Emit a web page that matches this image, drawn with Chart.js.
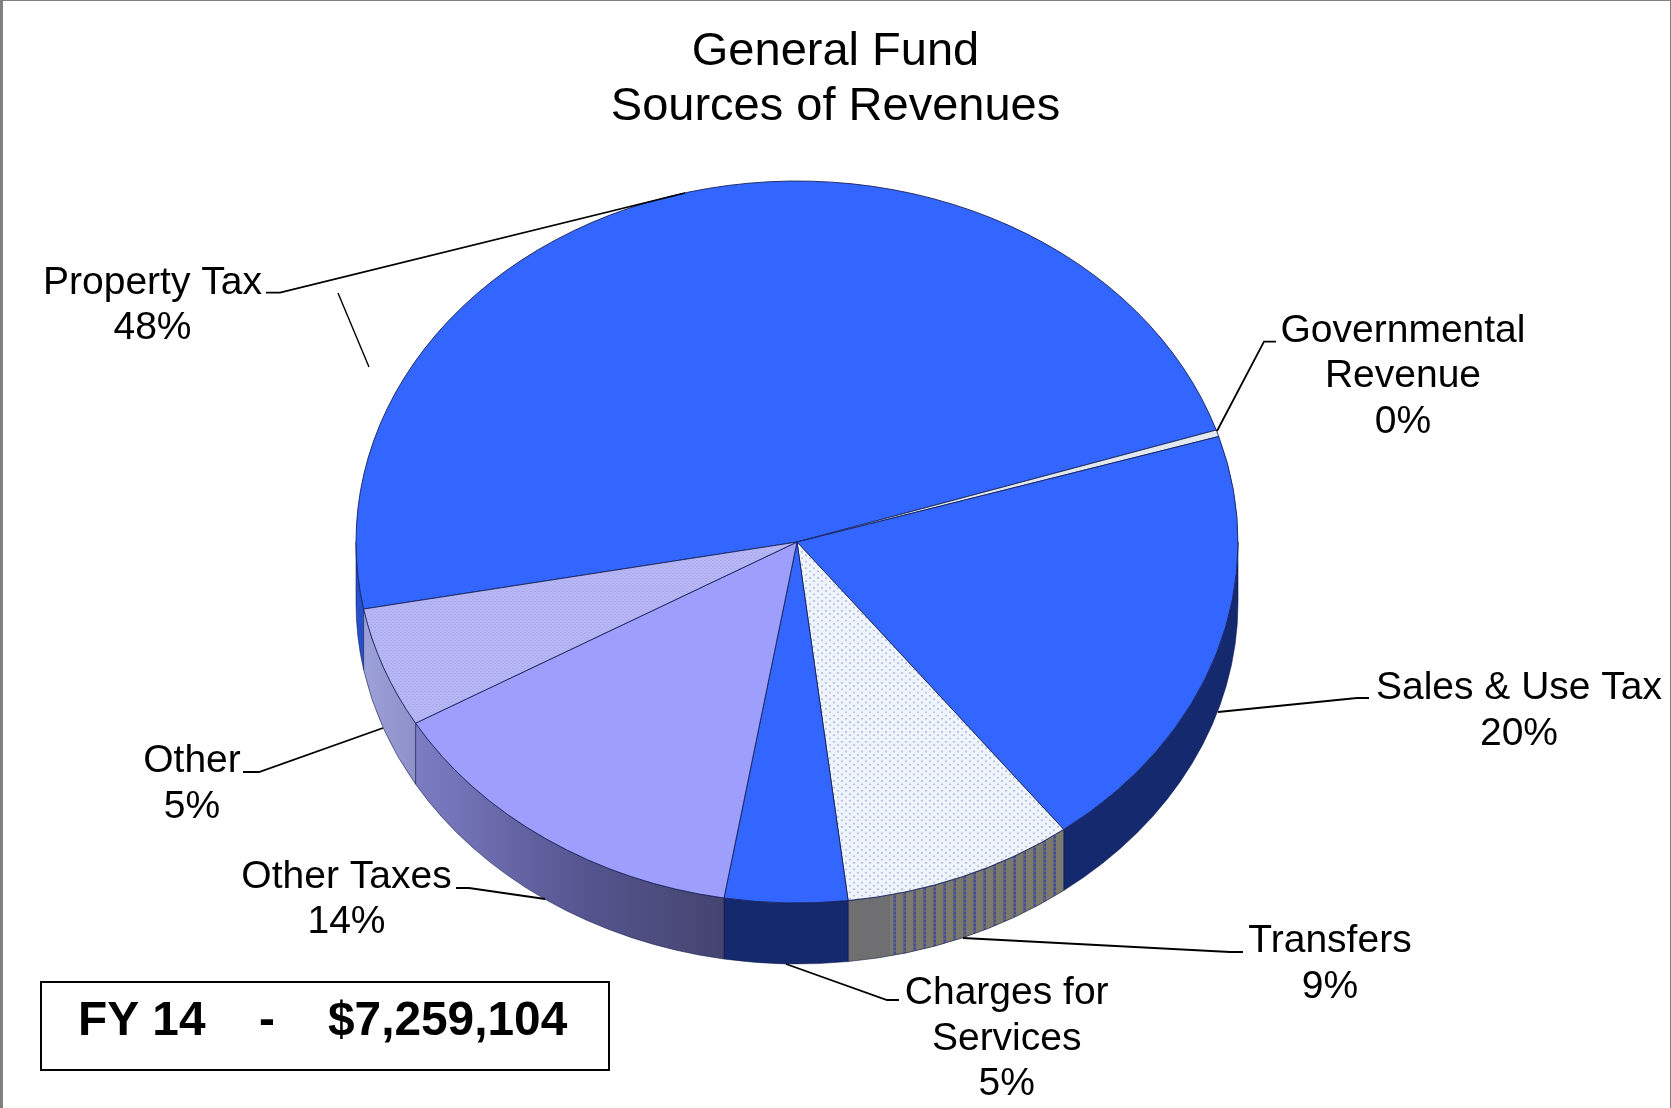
<!DOCTYPE html>
<html>
<head>
<meta charset="utf-8">
<title>General Fund Sources of Revenues</title>
<script src="https://cdn.jsdelivr.net/npm/chart.js@4/dist/chart.umd.min.js"></script>
<style>
    html, body { margin: 0; padding: 0; background: #fff; }
    canvas { display: block; }
</style>
</head>
<body>
<canvas id="pieChart" width="1671" height="1108"></canvas>
<script>
const titleLines = ['General Fund', 'Sources of Revenues'];
const categories = ['Property Tax', 'Governmental Revenue', 'Sales & Use Tax', 'Transfers', 'Charges for Services', 'Other Taxes', 'Other'];
const shares = [48.0, 0.3, 19.4, 8.5, 4.5, 14.0, 5.4];
const percentLabels = ['48%', '0%', '20%', '9%', '5%', '14%', '5%'];
const totalLabel = ['FY 14', '-', '$7,259,104'];

// where the pie sits on the page
const pieCenterX = 797;
const pieCenterY = 542;
const pieRadius = 441;
const tilt = 0.8186;
const depth = 61;

// labels and their leader lines, one per category
const labelSetup = [
    { lines: ['Property Tax'], x: 152.5, y: 293.5, leader: [[266, 292.7], [280, 292.7], [685, 193]] },
    { lines: ['Governmental', 'Revenue'], x: 1403, y: 341.7, leader: [[1276, 341.7], [1264, 341.7], [1217, 431]] },
    { lines: ['Sales & Use Tax'], x: 1519, y: 699, leader: [[1369, 698], [1357, 698], [1218, 712]] },
    { lines: ['Transfers'], x: 1330, y: 952, leader: [[1243, 952], [1230, 952], [963, 938]] },
    { lines: ['Charges for', 'Services'], x: 1006.7, y: 1004, leader: [[899, 1000], [887, 1000], [786, 964]] },
    { lines: ['Other Taxes'], x: 346.5, y: 887.7, leader: [[456, 888], [469, 888], [545, 899]] },
    { lines: ['Other'], x: 192, y: 772, leader: [[243, 772], [259, 772], [383, 728]] }
];
const strayLine = [[338, 293], [369, 367]];

function makeTile(w, h, bg, rects) {
    const tile = document.createElement('canvas');
    tile.width = w;
    tile.height = h;
    const c = tile.getContext('2d');
    c.fillStyle = bg;
    c.fillRect(0, 0, w, h);
    rects.forEach(r => {
        c.fillStyle = r[4];
        c.fillRect(r[0], r[1], r[2], r[3]);
    });
    return c.createPattern(tile, 'repeat');
}

const canvas = document.getElementById('pieChart');
const ctx = canvas.getContext('2d');

const dottedWhite = makeTile(8, 8, '#eff3fa', [[1, 1, 2, 2, '#b4c0e6'], [5, 5, 2, 2, '#b4c0e6']]);
const ditherLavender = makeTile(4, 4, '#b7b7f6', [[0, 0, 2, 1, '#a8a8ec'], [2, 2, 2, 1, '#a8a8ec']]);
const stripedGrey = makeTile(10, 4, '#7a7a6e', [[3, 0, 3, 4, '#62637a'], [4, 0, 2, 2, '#414c9e']]);

const topColors = ['#3366ff', '#e2e8f0', '#3366ff', dottedWhite, '#3366ff', '#9e9efc', ditherLavender];

function sideFill(c, i) {
    if (i === 0) {
        return '#2450d0';
    }
    if (i === 5) {
        const g = c.createLinearGradient(416, 0, 723, 0);
        g.addColorStop(0, '#7c7cc4');
        g.addColorStop(0.55, '#55558f');
        g.addColorStop(1, '#45446f');
        return g;
    }
    if (i === 6) {
        const g = c.createLinearGradient(356, 0, 416, 0);
        g.addColorStop(0, '#a0a4dc');
        g.addColorStop(1, '#8e90c8');
        return g;
    }
    if (i === 3) {
        return '#6f6f72';
    }
    return '#14296e';
}

function sidePath(c, a, b) {
    c.beginPath();
    c.ellipse(pieCenterX, pieCenterY, pieRadius, pieRadius * tilt, 0, a, b);
    c.ellipse(pieCenterX, pieCenterY + depth, pieRadius, pieRadius * tilt, 0, b, a, true);
    c.closePath();
}

function drawLine(c, pts, width) {
    c.beginPath();
    pts.forEach((p, i) => {
        if (i === 0) c.moveTo(p[0], p[1]);
        else c.lineTo(p[0], p[1]);
    });
    c.lineWidth = width;
    c.strokeStyle = '#000';
    c.stroke();
}

const pie3d = {
    id: 'pie3d',
    afterLayout(chart) {
        // title stays centred on the page, only the pie is off centre
        chart.titleBlock.left = 0;
        chart.titleBlock.right = chart.width;
    },
    beforeDatasetsDraw(chart) {
        const c = chart.ctx;
        const arcs = chart.getDatasetMeta(0).data;
        const full = Math.PI * 2;
        // the wall under the front half of every slice
        arcs.forEach((arc, i) => {
            // a slice can cross the 3 o'clock point, so try it a turn back too
            [-full, 0, full].forEach(turn => {
                const from = Math.max(arc.startAngle + turn, 0);
                const to = Math.min(arc.endAngle + turn, Math.PI);
                if (to <= from) return;
                sidePath(c, from, to);
                c.fillStyle = sideFill(c, i);
                c.fill();
                if (i === 3) {
                    c.save();
                    c.clip();
                    c.fillStyle = stripedGrey;
                    c.fillRect(890, pieCenterY, 180, 500);
                    c.restore();
                }
                sidePath(c, from, to);
                c.lineWidth = 0.8;
                c.strokeStyle = 'rgba(15,25,70,0.7)';
                c.stroke();
            });
        });
        // top face is squashed into an ellipse
        c.save();
        c.translate(arcs[0].x, arcs[0].y);
        c.scale(1, tilt);
        c.translate(-arcs[0].x, -arcs[0].y);
    },
    afterDatasetsDraw(chart) {
        const c = chart.ctx;
        c.restore();

        c.fillStyle = '#000';
        c.font = '39px "Liberation Sans", Arial, sans-serif';
        c.textAlign = 'center';
        c.textBaseline = 'alphabetic';
        labelSetup.forEach((item, i) => {
            const lines = item.lines.concat(percentLabels[i]);
            lines.forEach((t, n) => c.fillText(t, item.x, item.y + n * 45.6));
            drawLine(c, item.leader, 1.8);
        });
        drawLine(c, strayLine, 1.4);

        // total box
        c.lineWidth = 2;
        c.strokeStyle = '#000';
        c.strokeRect(41, 982, 568, 88);
        c.font = 'bold 47.8px "Liberation Sans", Arial, sans-serif';
        c.textAlign = 'left';
        c.fillText(totalLabel[0], 78, 1035);
        c.fillText(totalLabel[1], 259, 1035);
        c.fillText(totalLabel[2], 328, 1035);

        // page frame
        c.fillStyle = '#808080';
        c.fillRect(0, 0, 3, 1108);
        c.fillRect(0, 0, 1671, 1);
        c.fillRect(1670, 0, 1, 1108);
    }
};

new Chart(ctx, {
    type: 'pie',
    data: {
        labels: categories,
        datasets: [{
            data: shares,
            backgroundColor: topColors,
            borderColor: '#16235c',
            borderWidth: 1
        }]
    },
    options: {
        responsive: false,
        animation: false,
        rotation: 259.3,
        radius: pieRadius,
        layout: {
            padding: { left: 0, right: 1671 - 2 * pieCenterX, top: 0, bottom: 164 }
        },
        plugins: {
            legend: { display: false },
            tooltip: { enabled: false },
            title: {
                display: true,
                text: titleLines,
                color: '#000',
                font: { family: '"Liberation Sans", Arial, sans-serif', size: 47, weight: 'normal', lineHeight: 1.16 },
                padding: { top: 25, bottom: 6 }
            }
        }
    },
    plugins: [pie3d]
});
</script>
</body>
</html>
